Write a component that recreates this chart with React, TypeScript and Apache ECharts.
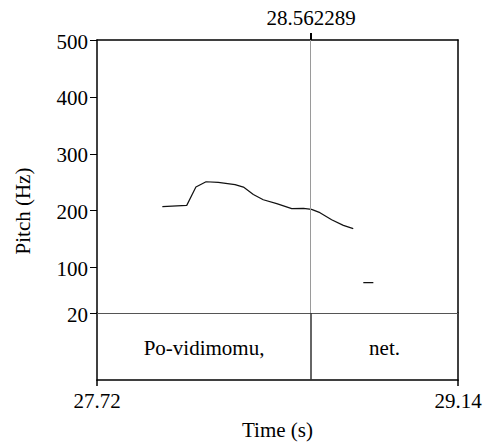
import React, { useEffect, useRef } from "react";
import * as echarts from "echarts";

const timeRange = [27.72, 29.14];
const pitchRange = [20, 500];
const pitchTicks = [20, 100, 200, 300, 400, 500];
const cursorTime = 28.562289;
const xAxisTitle = "Time (s)";
const yAxisTitle = "Pitch (Hz)";

const pitchSeg1: [number, number][] = [
  [27.977, 206.9],
  [28.073, 209.2],
  [28.109, 241.4],
  [28.149, 250.8],
  [28.197, 249.6],
  [28.263, 245.6],
  [28.296, 241.4],
  [28.335, 228.5],
  [28.374, 219.2],
  [28.427, 212.2],
  [28.486, 203.4],
  [28.532, 203.9],
  [28.564, 202.2],
  [28.597, 196.4],
  [28.643, 184.1],
  [28.689, 174.1],
  [28.728, 168.3],
];
const pitchSeg2: [number, number][] = [
  [28.7675, 73.4],
  [28.807, 73.4],
];

const tierLabels = ["Po-vidimomu,", "net."];
const tierBounds = [27.72, 28.562289, 29.14];

const FONT = "Liberation Serif";
const FS = 21;

export default function App() {
  const ref = useRef<HTMLDivElement>(null);
  useEffect(() => {
    if (!ref.current) return;
    const chart = echarts.init(ref.current, null, { renderer: "svg" });
    const edge = { color: "#000", width: 1.5 };
    const noLab = { show: false };
    chart.setOption({
      animation: false,
      textStyle: { fontFamily: FONT, color: "#000" },
      grid: [
        { left: 97, top: 40, width: 361, height: 273, show: false },
        { left: 97, top: 313, width: 361, height: 67, show: false },
      ],
      xAxis: [
        {
          type: "value", gridIndex: 0, position: "top",
          min: timeRange[0], max: timeRange[1],
          splitLine: { show: false },
          axisLine: { show: true, lineStyle: edge },
          axisTick: { show: true, inside: false, length: 7, customValues: [cursorTime], lineStyle: { color: "#000", width: 2 } },
          axisLabel: noLab,
        },
        {
          type: "value", gridIndex: 1, position: "bottom",
          min: timeRange[0], max: timeRange[1],
          splitLine: { show: false },
          axisLine: { show: true, lineStyle: edge },
          axisTick: { show: true, inside: false, length: 6, customValues: timeRange, lineStyle: { color: "#000", width: 1.5 } },
          axisLabel: noLab,
        },
        {
          type: "value", gridIndex: 0, position: "bottom",
          min: timeRange[0], max: timeRange[1],
          splitLine: { show: false },
          axisLine: { show: true, lineStyle: { color: "#555", width: 1 } },
          axisTick: { show: false },
          axisLabel: noLab,
        },
      ],
      yAxis: [
        {
          type: "value", gridIndex: 0, position: "left",
          min: pitchRange[0], max: pitchRange[1],
          splitLine: { show: false },
          axisLine: { show: true, lineStyle: edge },
          axisTick: { show: true, inside: false, length: 7, customValues: pitchTicks, lineStyle: { color: "#000", width: 1 } },
          axisLabel: noLab,
        },
        {
          type: "value", gridIndex: 1, position: "left", min: 0, max: 1,
          splitLine: { show: false },
          axisLine: { show: true, lineStyle: edge },
          axisTick: { show: false }, axisLabel: noLab,
        },
        {
          type: "value", gridIndex: 0, position: "right",
          min: pitchRange[0], max: pitchRange[1],
          splitLine: { show: false },
          axisLine: { show: true, lineStyle: edge },
          axisTick: { show: false }, axisLabel: noLab,
        },
        {
          type: "value", gridIndex: 1, position: "right", min: 0, max: 1,
          splitLine: { show: false },
          axisLine: { show: true, lineStyle: edge },
          axisTick: { show: false }, axisLabel: noLab,
        },
      ],
      series: [
        {
          type: "line", xAxisIndex: 0, yAxisIndex: 0,
          data: pitchSeg1, showSymbol: false, symbol: "none",
          lineStyle: { color: "#111", width: 1.2 }, silent: true,
          markLine: {
            silent: true, symbol: ["none", "none"], label: { show: false },
            lineStyle: { color: "#9a9a9a", width: 1, type: "solid" },
            data: [{ xAxis: cursorTime }],
          },
        },
        {
          type: "line", xAxisIndex: 0, yAxisIndex: 0,
          data: pitchSeg2, showSymbol: false, symbol: "none",
          lineStyle: { color: "#111", width: 1.2 }, silent: true,
        },
        {
          type: "line", xAxisIndex: 1, yAxisIndex: 1,
          data: [], showSymbol: false, silent: true,
          markLine: {
            silent: true, symbol: ["none", "none"], label: { show: false },
            lineStyle: { color: "#333", width: 1.5, type: "solid" },
            data: tierBounds.slice(1, -1).map((b) => ({ xAxis: b })),
          },
        },
      ],
    });

    const px = (axis: number, v: number) => chart.convertToPixel({ xAxisIndex: axis }, v) as number;
    const py = (axis: number, v: number) => chart.convertToPixel({ yAxisIndex: axis }, v) as number;
    const txt = (text: string, x: number, y: number, align: string, extra: any = {}) => ({
      type: "text", x, y, silent: true, ...extra,
      style: { text, fontFamily: FONT, fontSize: FS, fill: "#000", align, verticalAlign: "middle" },
    });
    const left = px(0, timeRange[0]);
    const right = px(0, timeRange[1]);
    const top = py(0, pitchRange[1]);
    const tierTop = py(1, 1);
    const tierBottom = py(1, 0);
    const graphics: any[] = [];
    pitchTicks.forEach((v) => graphics.push(txt(String(v), left - 9, py(0, v) + 1.5, "right")));
    timeRange.forEach((v) => graphics.push(txt(v.toFixed(2), px(1, v), tierBottom + 21, "center")));
    graphics.push(txt(cursorTime.toFixed(6), px(0, cursorTime), top - 22, "center"));
    graphics.push(txt(xAxisTitle, (left + right) / 2, tierBottom + 50, "center"));
    graphics.push(txt(yAxisTitle, 23, (top + tierBottom) / 2 + 1, "center", { rotation: Math.PI / 2 }));
    tierLabels.forEach((t, i) =>
      graphics.push(txt(t, (px(1, tierBounds[i]) + px(1, tierBounds[i + 1])) / 2, (tierTop + tierBottom) / 2 + 1.5, "center"))
    );
    chart.setOption({ graphic: graphics });
    return () => chart.dispose();
  }, []);
  return <div ref={ref} style={{ width: 483, height: 444, position: "absolute", left: 0, top: 0 }} />;
}
